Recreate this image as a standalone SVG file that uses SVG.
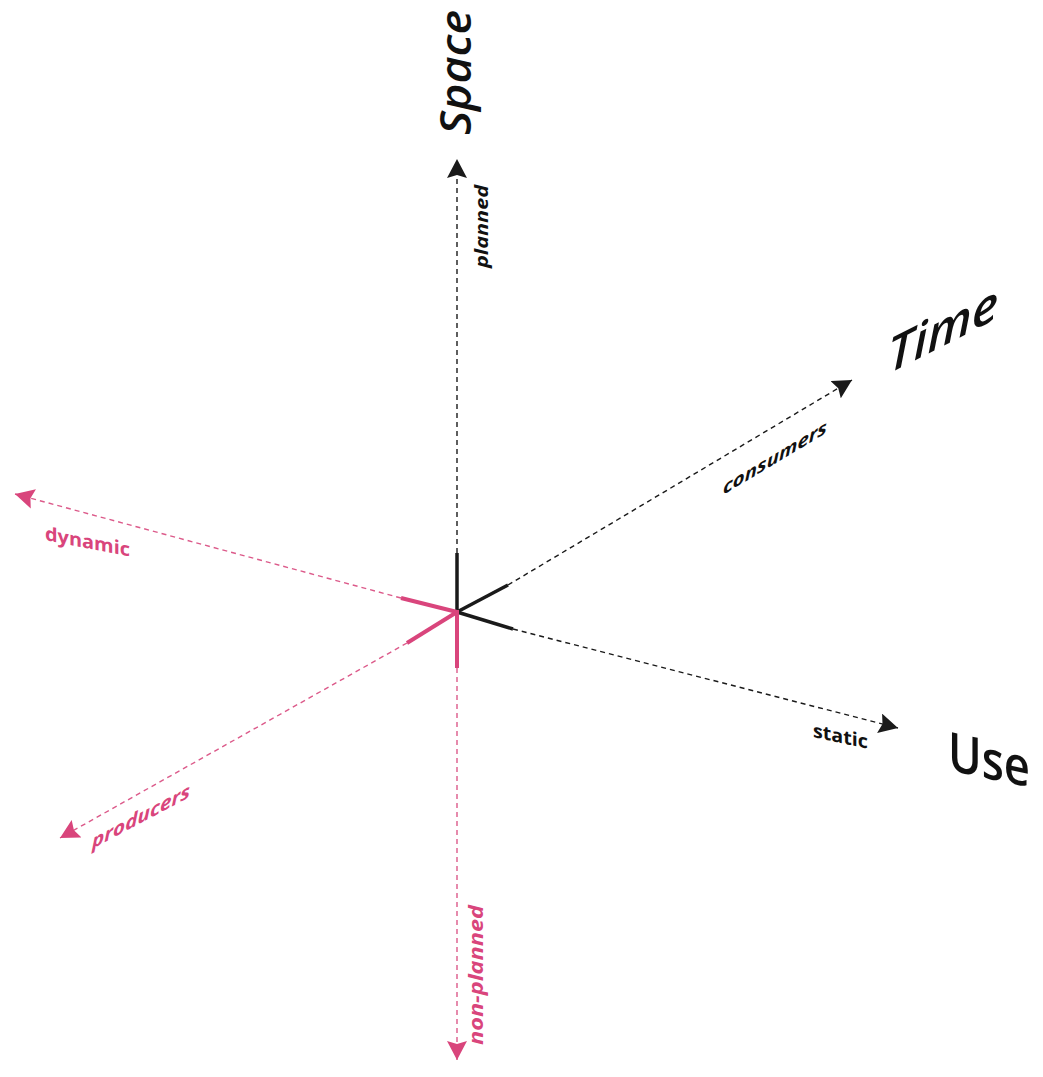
<svg xmlns="http://www.w3.org/2000/svg" width="1043" height="1077" viewBox="0 0 1043 1077">
<style>
  .bd{fill:none;stroke:#1a1a1a;stroke-width:1.4;stroke-dasharray:5 4}
  .pd{fill:none;stroke:#dc5a8a;stroke-width:1.4;stroke-dasharray:5 4}
  .bs{fill:none;stroke:#1a1a1a;stroke-width:3.5;stroke-linecap:butt}
  .ps{fill:none;stroke:#d9457c;stroke-width:4;stroke-linecap:butt}
  .big{font-family:"Open Sans","Noto Sans",sans-serif;font-weight:600;fill:#111}
  .lb{font-family:"Open Sans","Noto Sans",sans-serif;font-weight:700;fill:#111}
  .lp{font-family:"Open Sans","Noto Sans",sans-serif;font-weight:700;fill:#d9457c}
</style>
<defs>
  <marker id="ab" viewBox="0 0 19 20" refX="19" refY="10" markerWidth="19" markerHeight="20" markerUnits="userSpaceOnUse" orient="auto">
    <path d="M0,0 L19,10 L0,20 L3,10 Z" fill="#1a1a1a" stroke="none"/>
  </marker>
  <marker id="ap" viewBox="0 0 19 20" refX="19" refY="10" markerWidth="19" markerHeight="20" markerUnits="userSpaceOnUse" orient="auto">
    <path d="M0,0 L19,10 L0,20 L3,10 Z" fill="#d9457c" stroke="none"/>
  </marker>
</defs>
<rect width="1043" height="1077" fill="#ffffff"/>
<g id="connectors">
  <path class="bd" d="M457,553 L457,159" marker-end="url(#ab)"/>
  <path class="bd" d="M508,585 L852,380" marker-end="url(#ab)"/>
  <path class="bd" d="M513,629 L898,728" marker-end="url(#ab)"/>
  <path class="pd" d="M401,598 L15,494" marker-end="url(#ap)"/>
  <path class="pd" d="M407,643 L60,838" marker-end="url(#ap)"/>
  <path class="pd" d="M457,668 L457,1060" marker-end="url(#ap)"/>
  <path class="bs" d="M457,553 L457,612"/>
  <path class="bs" d="M457,612 L508,585"/>
  <path class="bs" d="M457,612 L513,629"/>
  <path class="ps" d="M457,612 L401,598"/>
  <path class="ps" d="M457,612 L407,643"/>
  <path class="ps" d="M457,610 L457,668"/>
</g>
<g id="space">
  <text class="big" font-size="44" font-style="italic" transform="translate(471,135) rotate(-90)" textLength="125" lengthAdjust="spacingAndGlyphs">Space</text>
  <text class="lb" font-size="18" font-style="italic" transform="translate(488,268) rotate(-90)" textLength="83" lengthAdjust="spacingAndGlyphs">planned</text>
</g>
<g id="time">
  <text class="big" font-size="48" font-style="italic" transform="translate(888,374) skewY(-27)" textLength="110" lengthAdjust="spacingAndGlyphs">Time</text>
  <text class="lb" font-size="18" font-style="italic" transform="translate(723,495) skewY(-31)" textLength="104" lengthAdjust="spacingAndGlyphs">consumers</text>
</g>
<g id="use">
  <text class="big" font-size="54" transform="translate(948,770) skewY(12)" textLength="82" lengthAdjust="spacingAndGlyphs">Use</text>
  <text class="lb" font-size="19" transform="translate(813,737) skewY(12)" textLength="55" lengthAdjust="spacingAndGlyphs">static</text>
</g>
<g id="dynamic">
  <text class="lp" font-size="19" transform="translate(45,540) skewY(11)" textLength="85" lengthAdjust="spacingAndGlyphs">dynamic</text>
</g>
<g id="producers">
  <text class="lp" font-size="19" font-style="italic" transform="translate(92,849) skewY(-28)" textLength="98" lengthAdjust="spacingAndGlyphs">producers</text>
</g>
<g id="non-planned">
  <text class="lp" font-size="19" font-style="italic" transform="translate(483,1045) rotate(-90)" textLength="140" lengthAdjust="spacingAndGlyphs">non-planned</text>
</g>
</svg>
